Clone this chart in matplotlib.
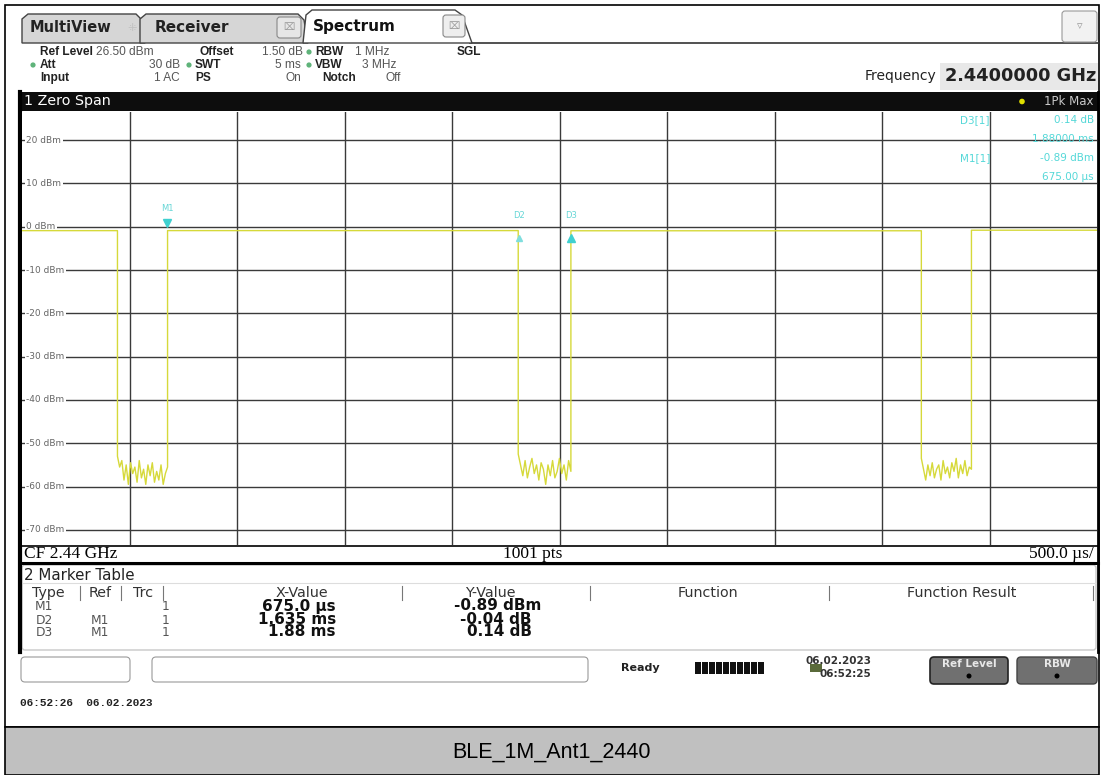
import matplotlib
matplotlib.use('Agg')
import matplotlib.pyplot as plt
import numpy as np
from matplotlib.patches import Rectangle, FancyBboxPatch, Polygon, Circle

# ---------------- data ----------------
sweep_ms = 5.0
ref_level_dbm = 26.5
range_db = 100.0
grid_levels_dbm = [20, 10, 0, -10, -20, -30, -40, -50, -60, -70]

burst_off_ms = [0.444, 2.308, 4.183]
burst_on_ms = [0.677, 2.553, 4.416]
on_level_dbm = [-0.90, -0.89, -0.93, -0.80]
gap1_noise_dbm = [-53.0, -55.5, -54.0, -58.5, -55.0, -59.5, -54.5, -57.0, -55.5, -59.0, -54.0,
                  -58.0, -56.0, -59.5, -55.0, -57.5, -54.5, -59.0, -56.5, -58.5, -55.0, -59.5,
                  -57.0, -55.5]
gap2_noise_dbm = [-52.5, -55.0, -57.5, -54.0, -58.0, -55.5, -53.5, -57.0, -55.0, -58.5, -54.5,
                  -56.0, -59.5, -55.0, -57.5, -54.0, -58.0, -56.5, -53.5, -57.0, -55.0, -58.5,
                  -54.0, -56.5]
gap3_noise_dbm = [-53.5, -56.0, -58.5, -55.0, -57.5, -54.5, -58.0, -56.0, -55.0, -58.5, -54.0,
                  -57.0, -55.5, -58.0, -54.5, -56.5, -53.5, -58.0, -55.0, -57.0, -54.0, -57.5,
                  -55.5, -56.0]
gap_noise_dbm = [gap1_noise_dbm, gap2_noise_dbm, gap3_noise_dbm]

marker_names = ['M1', 'D2', 'D3']
marker_t_ms = [0.675, 2.310, 2.555]
marker_dbm = [-0.89, -0.93, -0.75]

table_types = ['M1', 'D2', 'D3']
table_refs = ['', 'M1', 'M1']
table_trc = ['1', '1', '1']
table_x = ['675.0 µs', '1.635 ms', '1.88 ms']
table_y = ['-0.89 dBm', '-0.04 dB', '0.14 dB']

# ---------------- figure ----------------
W, H = 1102, 775
fig = plt.figure(figsize=(W / 100, H / 100), dpi=100)
bg = fig.add_axes([0, 0, 1, 1])
bg.set_xlim(0, W)
bg.set_ylim(H, 0)
bg.axis('off')

SANS = 'DejaVu Sans'
LIB = 'Liberation Sans'


def T(x, y, s, size=8.5, weight='normal', color='black', ha='left', va='center', family=SANS, **kw):
    return fig.text(x / W, 1 - y / H, s, fontsize=size, fontweight=weight, color=color,
                    ha=ha, va=va, family=family, **kw)


def rbox(x0, y0, x1, y1, fc, ec, lw=1.0, r=4, z=1):
    p = FancyBboxPatch((x0, y0), x1 - x0, y1 - y0, boxstyle=f"round,pad=0,rounding_size={r}",
                       fc=fc, ec=ec, lw=lw, zorder=z)
    bg.add_patch(p)
    return p


# outer frame
bg.add_patch(Rectangle((5, 5), 1094, 722, fc='white', ec='black', lw=1.2, zorder=0))
# footer
bg.add_patch(Rectangle((5, 727), 1094, 48, fc='#c0c0c0', ec='black', lw=1.2, zorder=1))
T(551, 752, 'BLE_1M_Ant1_2440', size=15.5, family=LIB, ha='center')

# tabs
bg.plot([470, 1099], [43, 43], color='#333333', lw=1.2, zorder=2)
bg.add_patch(Polygon([[22, 43], [22, 19], [28, 14], [136, 14], [142, 20], [145, 43]],
                     closed=True, fc='#d6d6d6', ec='#444444', lw=1.0, zorder=2))
bg.add_patch(Polygon([[140, 43], [140, 19], [146, 14], [298, 14], [304, 20], [308, 43]],
                     closed=True, fc='#d6d6d6', ec='#444444', lw=1.0, zorder=2))
bg.add_patch(Polygon([[303, 43], [306, 15], [312, 10], [455, 10], [462, 15], [472, 43]],
                     closed=True, fc='white', ec='#444444', lw=1.0, zorder=3))
T(30, 28, 'MultiView', size=10.5, weight='bold', color='#222222')
T(132, 28, '⁜', size=8, color='#c0c0c0', ha='center')
T(155, 28, 'Receiver', size=11, weight='bold', color='#222222')
T(313, 26, 'Spectrum', size=11, weight='bold', color='#111111')
rbox(277, 17, 301, 38, '#e6e6e6', '#888888', lw=0.8, r=3, z=4)
T(289, 27.5, '⌧', size=7, color='#999999', ha='center')
rbox(443, 15, 465, 37, '#eeeeee', '#888888', lw=0.8, r=3, z=4)
T(454, 26, '⌧', size=7, color='#999999', ha='center')
# dropdown
rbox(1062, 11, 1097, 42, '#f2f2f2', '#999999', lw=0.8, r=3, z=4)
T(1079.5, 26, '▿', size=8, color='#999999', ha='center')

# header settings
GREEN = '#5fb37a'
HS = 8.6
B, N = '#222222', '#555555'
T(40, 52, 'Ref Level', size=HS, weight='bold', color=B, family=LIB)
T(96, 52, '26.50 dBm', size=HS, color=N, family=LIB)
T(200, 52, 'Offset', size=HS, weight='bold', color=B, family=LIB)
T(303, 52, '1.50 dB', size=HS, ha='right', color=N, family=LIB)
T(315, 52, 'RBW', size=HS, weight='bold', color=B, family=LIB)
T(355, 52, '1 MHz', size=HS, color=N, family=LIB)
T(457, 52, 'SGL', size=HS, weight='bold', color=B, family=LIB)
T(40, 65, 'Att', size=HS, weight='bold', color=B, family=LIB)
T(180, 65, '30 dB', size=HS, ha='right', color=N, family=LIB)
T(195, 65, 'SWT', size=HS, weight='bold', color=B, family=LIB)
T(301, 65, '5 ms', size=HS, ha='right', color=N, family=LIB)
T(315, 65, 'VBW', size=HS, weight='bold', color=B, family=LIB)
T(362, 65, '3 MHz', size=HS, color=N, family=LIB)
T(40, 78, 'Input', size=HS, weight='bold', color=B, family=LIB)
T(180, 78, '1 AC', size=HS, ha='right', color=N, family=LIB)
T(195, 78, 'PS', size=HS, weight='bold', color=B, family=LIB)
T(301, 78, 'On', size=HS, ha='right', color=N, family=LIB)
T(322, 78, 'Notch', size=HS, weight='bold', color=B, family=LIB)
T(401, 78, 'Off', size=HS, ha='right', color=N, family=LIB)
for (cx, cy) in [(33, 65), (189, 65), (309, 52), (309, 65)]:
    bg.add_patch(Circle((cx, cy), 2.6, fc=GREEN, ec='none', zorder=4))

bg.add_patch(Rectangle((940, 63), 158, 27, fc='#e8e8e8', ec='none', zorder=2))
T(936, 76, 'Frequency', size=10, ha='right', color='#222222')
T(1096, 76, '2.4400000 GHz', size=12.8, weight='bold', ha='right', color='#222222')

# black title bar of the diagram
bg.add_patch(Rectangle((19, 92), 1080, 19, fc='#0d0d0d', ec='none', zorder=2))
T(24, 101.5, '1 Zero Span', size=10.3, color='white')
T(1093, 101.5, '1Pk Max', size=8.5, ha='right', color='#c8c8c8')
bg.add_patch(Circle((1022, 101.5), 2.8, fc='#e0e000', ec='none', zorder=4))

# frame borders of screen panel
bg.plot([20, 20], [92, 652], color='black', lw=3, zorder=5)
bg.plot([1098, 1098], [92, 652], color='black', lw=2, zorder=5)

# strip below diagram
bg.plot([20, 1098], [545.5, 545.5], color='black', lw=1.2, zorder=5)
bg.plot([20, 1098], [562.5, 562.5], color='black', lw=2.2, zorder=5)
T(24, 554, 'CF 2.44 GHz', size=12.5, family='Liberation Serif')
T(533, 554, '1001 pts', size=12.5, ha='center', family='Liberation Serif')
T(1094, 554, '500.0 µs/', size=12.5, ha='right', family='Liberation Serif')

# marker table panel
rbox(22, 565, 1096, 650, 'white', '#c8c8c8', lw=1.0, r=3, z=2)
T(24, 575, '2 Marker Table', size=10.8, color='#222222')
bg.plot([22, 1096], [583, 583], color='#dddddd', lw=0.8, zorder=3)
HY = 593
HZ = 10.3
T(48, HY, 'Type', size=HZ, ha='center', color='#333333')
T(100, HY, 'Ref', size=HZ, ha='center', color='#333333')
T(143, HY, 'Trc', size=HZ, ha='center', color='#333333')
T(302, HY, 'X-Value', size=HZ, ha='center', color='#333333')
T(490, HY, 'Y-Value', size=HZ, ha='center', color='#333333')
T(708, HY, 'Function', size=HZ, ha='center', color='#333333')
T(962, HY, 'Function Result', size=HZ, ha='center', color='#333333')
for sx in [80, 121, 163, 402, 590, 829, 1093]:
    bg.plot([sx, sx], [586, 600], color='#777777', lw=0.8, zorder=3)
row_y = [606, 619, 632]
y_right = [541, 532, 532]
for i in range(3):
    ry = row_y[i]
    T(44, ry + 1, table_types[i], size=8.8, ha='center', color='#555555')
    T(100, ry + 1, table_refs[i], size=8.8, ha='center', color='#555555')
    T(166, ry + 1, table_trc[i], size=8.8, ha='center', color='#555555')
    T(336, ry, table_x[i], size=11, weight='bold', ha='right', color='#111111')
    T(y_right[i], ry, table_y[i], size=11, weight='bold', ha='right', color='#111111')

# status bar
rbox(21, 657, 130, 682, 'white', '#9a9a9a', lw=0.8, r=4, z=2)
rbox(152, 657, 588, 682, 'white', '#9a9a9a', lw=0.8, r=4, z=2)
T(640, 668, 'Ready', size=8, weight='bold', ha='center', color='#222222')
for k in range(10):
    bg.add_patch(Rectangle((695 + k * 7, 662), 6, 12, fc='#111111', ec='none', zorder=3))
bg.add_patch(Rectangle((810, 664), 12, 8, fc='#5a6a3a', ec='none', zorder=3))
T(871, 661, '06.02.2023', size=7.5, weight='bold', ha='right', color='#333333')
T(871, 674, '06:52:25', size=7.5, weight='bold', ha='right', color='#333333')
rbox(930, 657, 1008, 684, '#707070', '#222222', lw=1.2, r=4, z=2)
T(969, 664, 'Ref Level', size=7.5, weight='bold', ha='center', color='#e8e8e8')
bg.add_patch(Circle((969, 676), 2.5, fc='black', ec='none', zorder=4))
rbox(1017, 657, 1097, 684, '#707070', '#444444', lw=1.0, r=4, z=2)
T(1057, 664, 'RBW', size=7.5, weight='bold', ha='center', color='#e8e8e8')
bg.add_patch(Circle((1057, 676), 2.5, fc='black', ec='none', zorder=4))

T(20, 703, '06:52:26  06.02.2023', size=8, weight='bold', family='Liberation Mono', color='#222222')

# ---------------- diagram ----------------
x0, x1, y0, y1 = 22, 1097, 112, 545
ax = fig.add_axes([x0 / W, 1 - y1 / H, (x1 - x0) / W, (y1 - y0) / H])
ax.set_xlim(0, sweep_ms)
ax.set_ylim(ref_level_dbm - range_db, ref_level_dbm)
ax.set_xticks([])
ax.set_yticks([])
for s in ax.spines.values():
    s.set_visible(False)

GRID = '#3a3a3a'
for k in range(1, 10):
    ax.axvline(k * sweep_ms / 10, color=GRID, lw=1.0, zorder=1)
for lv in grid_levels_dbm:
    ax.axhline(lv, color=GRID, lw=1.0, zorder=1)
    ax.text(0.02, lv, f'{lv} dBm', fontsize=6.5, color='#666666', va='center', ha='left',
            bbox=dict(fc='white', ec='none', pad=1.2), zorder=2)

# build trace from the read values
tt, yy = [0.0], [on_level_dbm[0]]
for g in range(3):
    tt += [burst_off_ms[g], burst_off_ms[g]]
    yy += [on_level_dbm[g], gap_noise_dbm[g][0]]
    nz = gap_noise_dbm[g]
    ts = np.linspace(burst_off_ms[g], burst_on_ms[g], len(nz))
    tt += list(ts)
    yy += list(nz)
    tt += [burst_on_ms[g]]
    yy += [on_level_dbm[g + 1]]
tt.append(sweep_ms)
yy.append(on_level_dbm[-1])
ax.plot(tt, yy, color='#d6d93a', lw=1.0, zorder=3)

CYAN = '#3fd0d0'
ax.plot(marker_t_ms[0], marker_dbm[0] + 1.8, marker='v', ms=6, color=CYAN, zorder=5)
ax.plot(marker_t_ms[1], marker_dbm[1] - 1.6, marker='^', ms=4, color='#7fdede', zorder=5)
ax.plot(marker_t_ms[2], marker_dbm[2] - 1.8, marker='^', ms=5.5, color=CYAN, zorder=5)
lab_off = [4.0, 2.4, 2.4]
for i in range(3):
    ax.text(marker_t_ms[i], marker_dbm[i] + lab_off[i], marker_names[i], fontsize=6,
            color='#66d6d6', ha='center', va='bottom', zorder=5)

# marker readout
RC = '#55d8d8'
T(960, 120, 'D3[1]', size=7.5, color=RC)
T(1094, 120, '0.14 dB', size=7.5, color=RC, ha='right')
T(1094, 139, '1.88000 ms', size=7.5, color=RC, ha='right')
T(960, 158, 'M1[1]', size=7.5, color=RC)
T(1094, 158, '-0.89 dBm', size=7.5, color=RC, ha='right')
T(1094, 177, '675.00 µs', size=7.5, color=RC, ha='right')

fig.savefig('out.png', dpi=100)
